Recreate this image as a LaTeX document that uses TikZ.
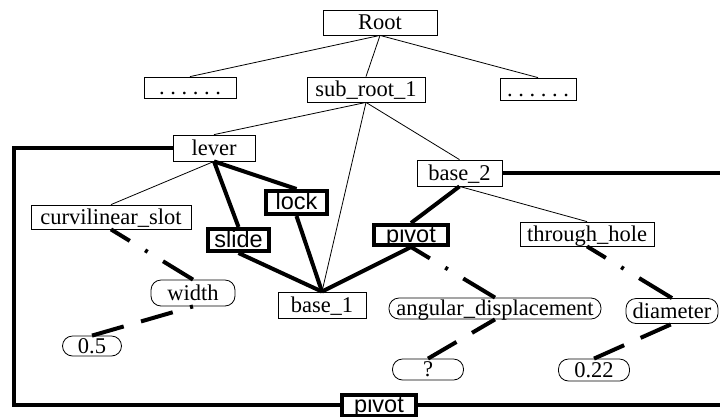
\documentclass[tikz,border=0pt]{standalone}
\usepackage{fontspec}
\setmainfont{Liberation Serif}
\setsansfont{Liberation Sans}
\usetikzlibrary{calc}
\tikzset{>=latex}

\tikzset{
	part/.style={draw, fill=white, line width=0.8pt, inner sep=0pt, text height=17pt, text depth=3pt, font=\fontsize{22.5}{26}\selectfont},
	attr/.style={part, rounded corners=10pt},
	rel/.style={draw, fill=white, line width=4pt, inner sep=0pt, text height=17pt, text depth=3pt, font=\sffamily\fontsize{23.5}{26}\selectfont},
	tree/.style={line width=0.8pt},
	link/.style={line width=4pt},
	dashdot/.style={line width=4pt, dash pattern=on 22pt off 18pt on 3pt off 18pt on 80pt off 18pt},
	dashlong/.style={line width=4pt, dash pattern=on 33pt off 18pt}
}

\begin{document}
\begin{tikzpicture}[x=1pt, y=-1pt]

\useasboundingbox (0,0) rectangle (720,416);

\def\dotrow{.\ .\ .\ .\ .\ .}

% Assembly tree
\node[part, minimum width=114, minimum height=25] (root) at (380,22.5) {Root};
\node[part, minimum width=92, minimum height=21] (dotsL) at (190,87.5) {\dotrow};
\node[part, minimum width=118, minimum height=25] (sub) at (366,89.5) {sub\_root\_1};
\node[part, minimum width=76, minimum height=22] (dotsR) at (538,89) {\dotrow};

\node[part, minimum width=82, minimum height=26] (lever) at (214,148) {lever};
\node[part, minimum width=85, minimum height=26] (base2) at (459.5,173) {base\_2};
\node[part, minimum width=88, minimum height=26] (base1) at (322,305) {base\_1};

% Features
\node[part, minimum width=160, minimum height=24] (curv) at (111,217) {curvilinear\_slot};
\node[part, minimum width=134, minimum height=24] (through) at (587,234) {through\_hole};

% Attributes
\node[attr, minimum width=84, minimum height=26] (width) at (193,293) {width};
\node[attr, minimum width=212, minimum height=21] (ang) at (495,308.5) {angular\_displacement};
\node[attr, minimum width=92, minimum height=25] (diam) at (672,311) {diameter};
\node[attr, minimum width=59, minimum height=20] (half) at (92,346) {0.5};
\node[attr, minimum width=71, minimum height=21] (quest) at (428,369.5) {?};
\node[attr, minimum width=71, minimum height=22] (val) at (594,370) {0.22};

% Relations
\node[rel, minimum width=61, minimum height=23] (lock) at (296.5,202.5) {lock};
\node[rel, minimum width=61, minimum height=22] (slide) at (238.5,240) {slide};
\node[rel, minimum width=74, minimum height=20] (pivotA) at (411,235) {pivot};
\node[rel, minimum width=74, minimum height=21] (pivotB) at (379,405) {pivot};

\foreach \a/\b in {root/dotsL, root/sub, root/dotsR, sub/lever, sub/base1, sub/base2, lever/curv, base2/through}{
	\draw[tree] (\a.south) -- (\b.north);
}

\foreach \a/\r in {lever/lock, lever/slide, base2/pivotA}{
	\draw[link] (\a.south) -- (\r.north) (\r.south) -- (base1.north);
}

\foreach \a/\b in {curv/width, pivotA/ang, through/diam}{
	\draw[dashdot] (\a.south) -- (\b.north);
}
\foreach \a/\b in {half/width, quest/ang, val/diam}{
	\draw[dashlong] (\a.north) -- (\b.south);
}

% Outer pivot loop
\coordinate (frameL) at (14,148);
\coordinate (frameR) at (726,173);
\draw[link] (lever.west) -- (frameL |- lever.west) -- (frameL |- pivotB.west) -- (pivotB.west);
\draw[link] (base2.east) -- (frameR |- base2.east) -- (frameR |- pivotB.east) -- (pivotB.east);

\end{tikzpicture}
\end{document}
